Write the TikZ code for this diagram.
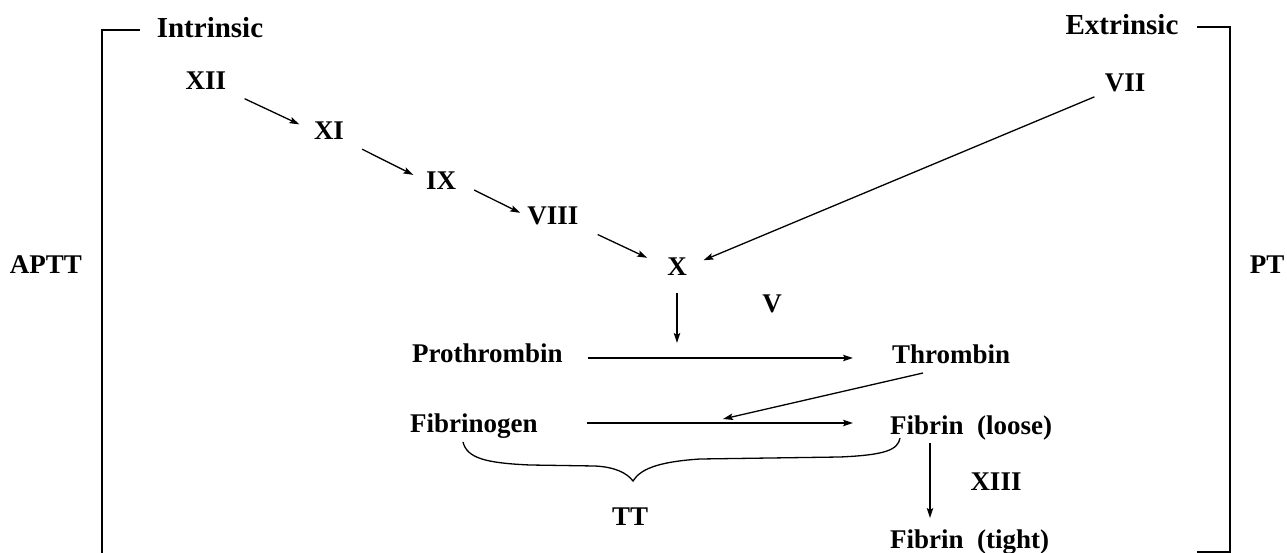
\documentclass[tikz,border=0pt]{standalone}
\usepackage{fontspec}
\setmainfont{Liberation Serif}
\usetikzlibrary{arrows.meta}
\begin{document}
\begin{tikzpicture}[x=1pt,y=-1pt,
  lbl/.style={inner sep=0pt, font=\bfseries\fontsize{27}{30}\selectfont},
  head/.style={inner sep=0pt, font=\bfseries\fontsize{29}{32}\selectfont},
  arr/.style={line width=1.3pt, -{Stealth[length=10pt,width=6.5pt,inset=2pt]}},
  brk/.style={line width=1.8pt},
  brc/.style={line width=1.3pt}]
\useasboundingbox (0,0) rectangle (1287,553);
% headers and side labels
\node[head, anchor=base] (Intr) at (210,38) {Intrinsic};
\node[head, anchor=base] (Extr) at (1122,35) {Extrinsic};
\node[lbl, anchor=base] (APTT) at (46,273) {APTT};
\node[lbl, anchor=base] (PT) at (1267,273) {PT};
% factors
\node[lbl, anchor=base] (XII) at (206,90) {XII};
\node[lbl, anchor=base] (XI) at (329,140) {XI};
\node[lbl, anchor=base] (IX) at (441,190) {IX};
\node[lbl, anchor=base] (VIII) at (553,225) {VIII};
\node[lbl, anchor=base] (X) at (677,276) {X};
\node[lbl, anchor=base] (VII) at (1125,92) {VII};
\node[lbl, anchor=base] (V) at (772,312) {V};
\node[lbl, anchor=base west] (Pro) at (412,362) {Prothrombin};
\node[lbl, anchor=base west] (Thr) at (892,363) {Thrombin};
\node[lbl, anchor=base west] (Fbg) at (410,432) {Fibrinogen};
\node[lbl, anchor=base west] (FL) at (890,434) {Fibrin\ \ (loose)};
\node[lbl, anchor=base west] (FT) at (890,548) {Fibrin\ \ (tight)};
\node[lbl, anchor=base] (XIII) at (996,490) {XIII};
\node[lbl, anchor=base] (TT) at (630,525) {TT};
% brackets
\draw[brk] (140,30) -- (102,30) -- (102,553);
\draw[brk] (1197,27) -- (1230,27) -- (1230,552) -- (1197,552);
% cascade arrows
\draw[arr, shorten <=20pt, shorten >=16pt] (XII.south east) -- (XI.west);
\draw[arr, shorten <=20pt, shorten >=14pt] (XI.south east) -- (IX.west);
\draw[arr, shorten <=20pt, shorten >=8pt] (IX.east) -- (VIII.west);
\draw[arr, shorten <=21pt, shorten >=22pt] (VIII.south east) -- (X.west);
\draw[arr, shorten <=11pt, shorten >=18pt] (VII.south west) -- (X.east);
\coordinate (pm) at (677,358);
\draw[arr, shorten <=17pt, shorten >=15pt] (X.south) -- (pm);
\draw[arr] ([xshift=25pt,yshift=4pt]Pro.base east) -- ([xshift=-39pt,yshift=5pt]Thr.base west);
\draw[arr] ([xshift=49pt,yshift=9pt]Fbg.base east) -- ([xshift=-37pt,yshift=11pt]FL.base west);
\coordinate (fm) at (723,419);
\draw[arr] ([xshift=31pt,yshift=-10pt]Thr.base west) -- (fm);
\draw[arr] ([xshift=40pt,yshift=-9pt]FL.base west) -- ([xshift=40pt,yshift=30pt]FT.base west);
% brace
\draw[brc] (463,442) .. controls (467,458) and (485,463) .. (530,465)
  -- (595,466) .. controls (615,467) and (627,473) .. (633,481)
  .. controls (640,470) and (655,462) .. (700,459)
  -- (840,457) .. controls (885,455) and (898,450) .. (900,438);
\end{tikzpicture}
\end{document}
